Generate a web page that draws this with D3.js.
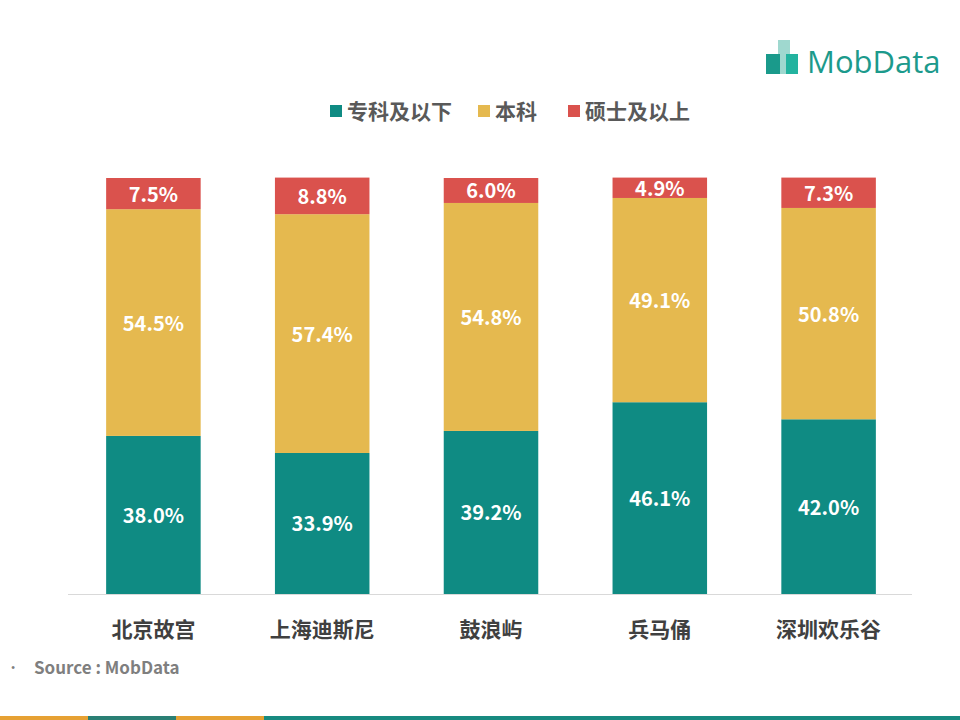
<!DOCTYPE html>
<html><head><meta charset="utf-8">
<script src="https://cdn.jsdelivr.net/npm/d3@7/dist/d3.min.js"></script>
<style>body{margin:0;background:#fff}svg{display:block}</style>
</head><body>
<svg id="c" width="960" height="720"></svg>
<script>
const categories = ["北京故宫","上海迪斯尼","鼓浪屿","兵马俑","深圳欢乐谷"];
const seriesNames = ["专科及以下","本科","硕士及以上"];
const below = [38.0, 33.9, 39.2, 46.1, 42.0];
const bachelor = [54.5, 57.4, 54.8, 49.1, 50.8];
const master = [7.5, 8.8, 6.0, 4.9, 7.3];
const colors = ["#0f8b83","#e5b94f","#da524d"];
const font = "'Noto Sans CJK SC','Microsoft YaHei',sans-serif";

const svg = d3.select("#c");
const x = d3.scaleBand().domain(categories).range([69, 913]).paddingInner(0.44).paddingOuter(0.22);
const y = d3.scaleLinear().domain([0, 100]).range([594, 178]);

const rows = categories.map((c, i) => ({cat: c, below: below[i], bachelor: bachelor[i], master: master[i]}));
const stack = d3.stack().keys(["below","bachelor","master"])(rows);

const g = svg.append("g");
stack.forEach((layer, li) => {
  g.selectAll(null).data(layer).enter().append("rect")
    .attr("x", d => x(d.data.cat))
    .attr("width", x.bandwidth())
    .attr("y", d => y(d[1]))
    .attr("height", d => y(d[0]) - y(d[1]))
    .attr("fill", colors[li]);
  g.selectAll(null).data(layer).enter().append("text")
    .attr("x", d => x(d.data.cat) + x.bandwidth()/2)
    .attr("y", d => (y(d[0]) + y(d[1]))/2)
    .attr("dy", "0.4em")
    .attr("text-anchor", "middle")
    .attr("fill", "#fff")
    .attr("font-family", font)
    .attr("font-weight", "bold")
    .attr("font-size", 20)
    .text(d => (d[1]-d[0]).toFixed(1) + "%");
});

// axis
const ax = svg.append("g").attr("transform", "translate(0,594)")
  .call(d3.axisBottom(x).tickSize(0).tickPadding(28));
ax.select(".domain").attr("stroke", "#d9d9d9").attr("d", "M68,0.5H912");
ax.selectAll("text").attr("font-family", font).attr("font-size", 21).attr("font-weight", "bold").attr("fill", "#404040");

// legend
const legendX = [330, 478, 568];
const lg = svg.append("g");
seriesNames.forEach((n, i) => {
  lg.append("rect").attr("x", legendX[i]).attr("y", 105).attr("width", 12).attr("height", 12).attr("fill", colors[i]);
  lg.append("text").attr("x", legendX[i] + 17).attr("y", 112).attr("dy", "0.35em")
    .attr("font-family", font).attr("font-size", 21).attr("font-weight", "bold").attr("fill", "#595959").text(n);
});

// logo
const logo = svg.append("g");
logo.append("rect").attr("x", 778).attr("y", 40).attr("width", 12).attr("height", 34).attr("fill", "#9fd8cf");
logo.append("rect").attr("x", 766).attr("y", 54).attr("width", 14).attr("height", 20).attr("fill", "#1a9a8b");
logo.append("rect").attr("x", 786).attr("y", 54).attr("width", 12).attr("height", 20).attr("fill", "#23b39f");
logo.append("text").attr("x", 807).attr("y", 73).attr("font-family", "'Open Sans',sans-serif")
  .attr("font-size", 31).attr("fill", "#1c9a8c").text("MobData");

// source
svg.append("text").attr("x", 11).attr("y", 668).attr("dy", "0.35em").attr("font-size", 12).attr("fill", "#808080").text("•");
svg.append("text").attr("x", 34).attr("y", 668).attr("dy", "0.35em").attr("font-family", font)
  .attr("font-size", 17).attr("font-weight", "bold").attr("fill", "#7f7f7f").text("Source : MobData");

// bottom strip
const strip = [[0,88,"#e6a133"],[88,176,"#2a7f74"],[176,264,"#e6a133"],[264,960,"#178a80"]];
svg.selectAll(null).data(strip).enter().append("rect")
  .attr("x", d => d[0]).attr("width", d => d[1]-d[0]).attr("y", 716).attr("height", 4).attr("fill", d => d[2]);
</script>
</body></html>
